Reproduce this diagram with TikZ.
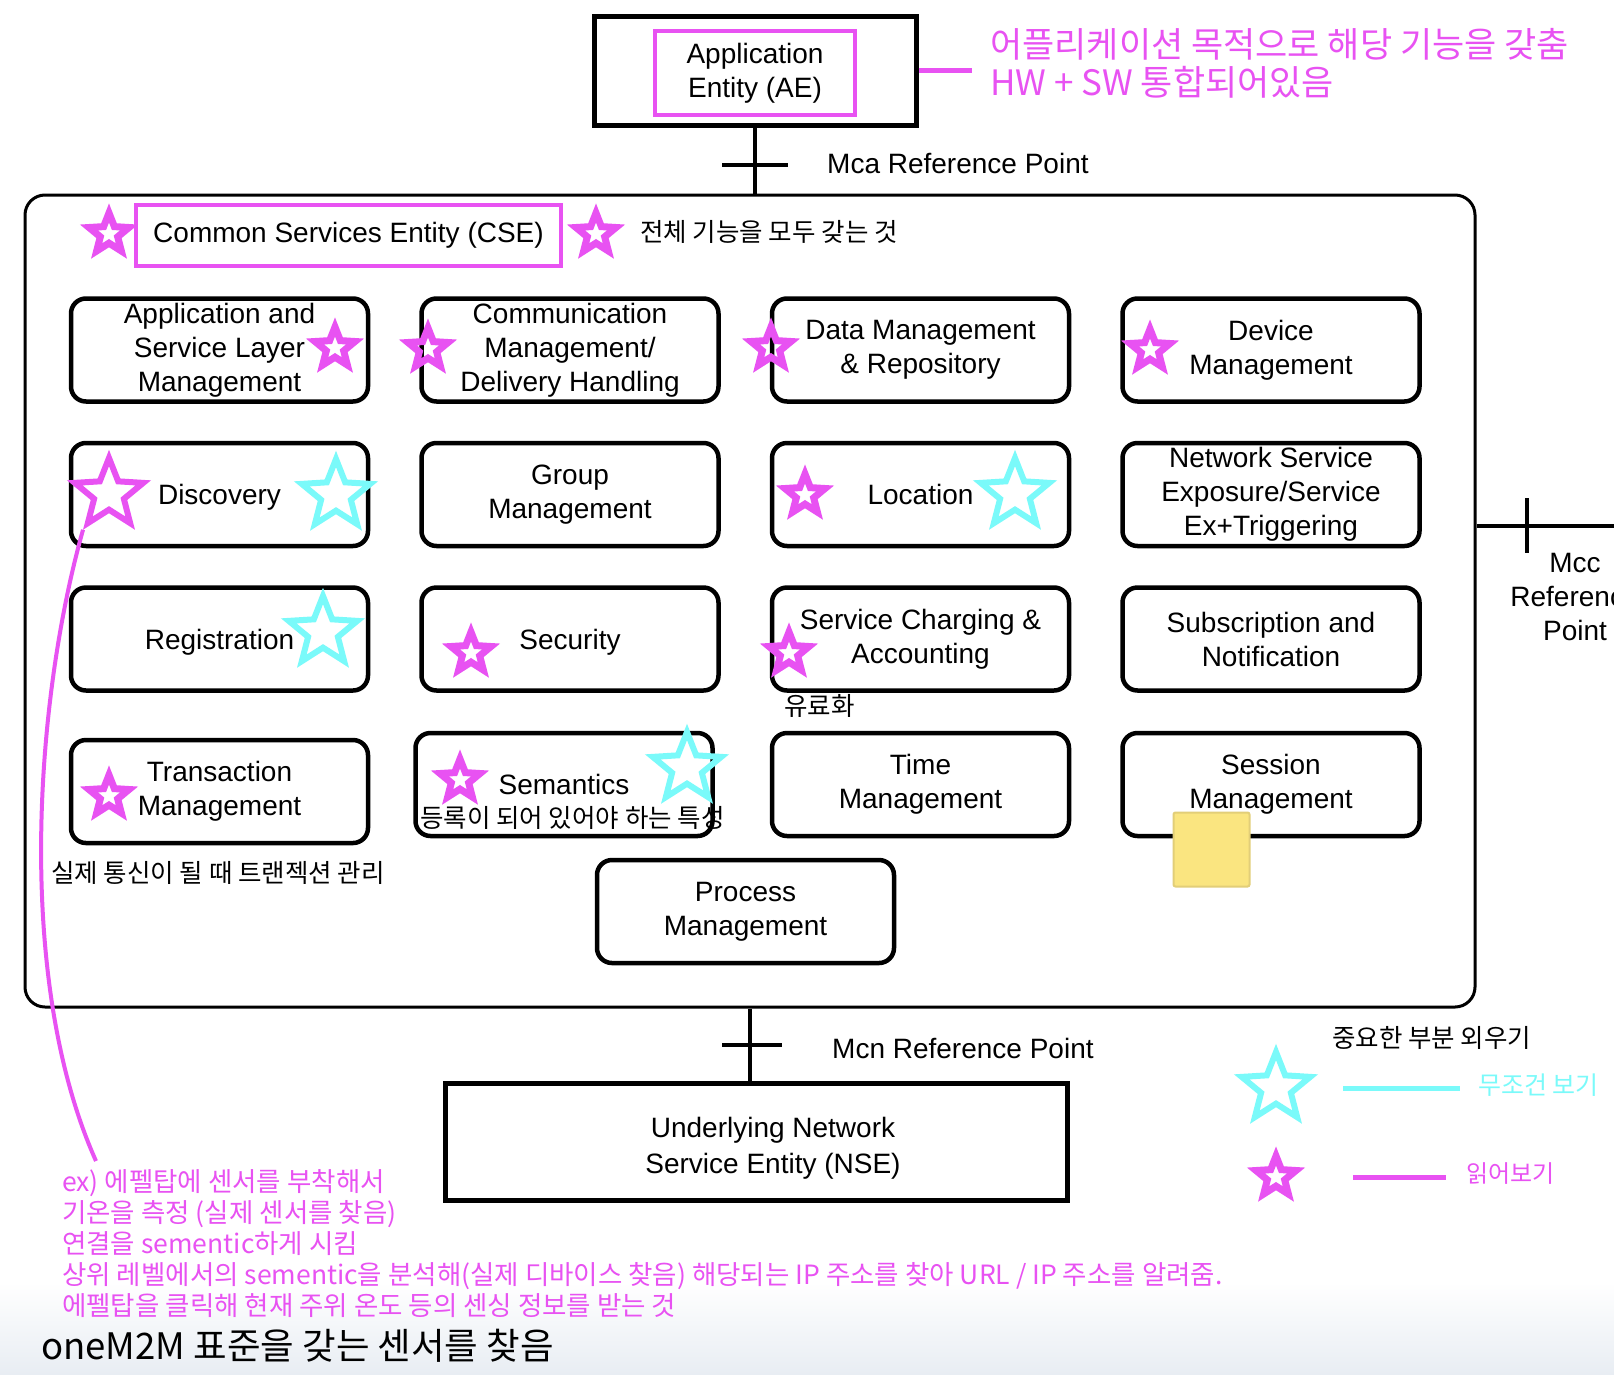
\documentclass[tikz,border=0pt]{standalone}
\usepackage{fontspec}
\setmainfont{Liberation Sans}
\newfontfamily\kr{Noto Sans CJK KR}
\usetikzlibrary{
  positioning,
  shapes.geometric,
  fit
}
\definecolor{hlmag}{RGB}{232,82,242}
\definecolor{hlcyan}{RGB}{122,250,250}
\definecolor{notepad}{RGB}{250,229,128}
\definecolor{notepadline}{RGB}{226,206,120}
\definecolor{fadebg}{RGB}{232,237,243}
\newcommand{\funcfont}{\fontsize{28}{34}\selectfont}

\begin{document}
\begin{tikzpicture}[x=1pt, y=-1pt,
    func/.style = {rectangle, draw, rounded corners=15pt, line width=4.5pt, minimum width=297pt, minimum height=103pt, inner sep=2pt, align=center, font=\funcfont},
    entity/.style = {rectangle, draw, line width=5pt, inner sep=2pt, align=center, font=\funcfont},
    markbox/.style = {rectangle, draw=hlmag, line width=4.5pt, inner sep=2pt, align=center, font=\funcfont},
    refline/.style = {line width=4pt},
    refnote/.style = {anchor=west, inner sep=0pt, font=\funcfont},
    smallstar/.style = {star, star points=5, star point ratio=2.3, draw=hlmag, line width=7pt, minimum size=42pt, inner sep=0pt},
    bigstar/.style = {star, star points=5, star point ratio=2.3, draw=#1, line width=6pt, minimum size=72pt, inner sep=0pt},
    memo/.style = {anchor=west, inner sep=0pt, font=\kr\fontsize{25.5}{30}\selectfont},
    magnote/.style = {anchor=west, inner sep=0pt, align=left, text=hlmag},
    magline/.style = {draw=hlmag, line width=5pt}
  ]
  \useasboundingbox[fill=white] (0,0) rectangle (1614,1374);
  \shade[top color=white, bottom color=fadebg] (0,1282) rectangle (1614,1374);

  % nodes
  \node[entity, minimum width=322pt, minimum height=109pt] (ae) at (755,70.5) {};
  \node[markbox, minimum width=200pt, minimum height=84pt] (aelabel) at (755,73) {Application\\Entity (AE)};
  \node[draw, rounded corners=20pt, line width=3pt, minimum width=1450pt, minimum height=812pt] (cse) at (750,601) {};
  \node[markbox, minimum width=425pt, minimum height=61pt] (cselabel) at (348.5,235.5) {Common Services Entity (CSE)};

  \node[func] (appsvc) at (219.5,350) {Application and\\Service Layer\\Management};
  \node[func, right=49pt of appsvc] (commdel) {Communication\\Management/\\Delivery Handling};
  \node[func, right=49pt of commdel] (datarep) {Data Management\\\& Repository};
  \node[func, right=49pt of datarep] (devmgmt) {Device\\Management};

  \node[func, below=37pt of appsvc, text depth=0pt] (discovery) {Discovery};
  \node[func, below=37pt of commdel] (groupmgmt) {Group\\Management};
  \node[func, below=37pt of datarep] (location) {Location};
  \node[func, below=37pt of devmgmt] (netexpo) {Network Service\\Exposure/Service\\Ex+Triggering};

  \node[func, below=37pt of discovery, text depth=0pt] (registration) {Registration};
  \node[func, below=37pt of groupmgmt, text depth=0pt] (security) {Security};
  \node[func, below=37pt of location] (charging) {Service Charging \&\\Accounting};
  \node[func, below=37pt of netexpo] (subscription) {Subscription and\\Notification};

  \node[func, below=45pt of registration] (transaction) {Transaction\\Management};
  \node[func, below=38pt of security, xshift=-6pt] (semantics) {Semantics};
  \node[func, below=38pt of charging] (timemgmt) {Time\\Management};
  \node[func, below=38pt of subscription] (session) {Session\\Management};
  \node[func] (process) at (745.5,911.5) {Process\\Management};

  \node[entity, minimum width=622pt, minimum height=117pt] (nse) at (756,1141.5) {};
  \node[align=center, font=\fontsize{28}{36}\selectfont] (nselabel) at ([xshift=17pt, yshift=-7pt]nse.center) {Underlying Network\\Service Entity (NSE)};

  \node[fill=notepad, draw=notepadline, line width=2pt, rounded corners=2pt, minimum width=76pt, minimum height=74pt] (sticky) at (1211.5,849.5) {};

  % stars
  \node[smallstar] (cseStarL) at (109,234) {};
  \node[smallstar] (cseStarR) at (596,234) {};
  \node[smallstar] (appStar) at (335,348) {};
  \node[smallstar] (commStar) at (428,349) {};
  \node[smallstar] (dataStar) at (771,348) {};
  \node[smallstar] (devStar) at (1150,350) {};
  \node[bigstar=hlmag] (discStarM) at (109,494) {};
  \node[bigstar=hlcyan] (discStarC) at (336,495) {};
  \node[smallstar] (locStarM) at (805,495) {};
  \node[bigstar=hlcyan] (locStarC) at (1015,494) {};
  \node[bigstar=hlcyan] (regStarC) at (323,632) {};
  \node[smallstar] (secStar) at (471,653) {};
  \node[smallstar] (chargeStar) at (789,653) {};
  \node[smallstar] (transStar) at (109,796) {};
  \node[smallstar] (semStarM) at (460,780) {};
  \node[bigstar=hlcyan] (semStarC) at (687,768) {};
  \node[bigstar=hlcyan] (keyStarC) at (1276,1088) {};
  \node[smallstar] (keyStarM) at (1276,1177) {};

  % notes
  \node[magnote, font=\kr\fontsize{35}{38}\selectfont] (aenote) at (990,63) {어플리케이션 목적으로 해당 기능을 갖춤\\HW + SW 통합되어있음};
  \node[refnote] (mcalabel) at (827,163) {Mca Reference Point};
  \node[memo] (csememo) at (640,232) {전체 기능을 모두 갖는 것};
  \node[memo] (chargememo) at (784,706) {유료화};
  \node[memo] (semmemo) at (420,818) {등록이 되어 있어야 하는 특성};
  \node[memo] (transmemo) at (51,873) {실제 통신이 될 때 트랜젝션 관리};
  \node[align=center, font=\funcfont, inner sep=0pt] (mcclabel) at (1575,597) {Mcc\\Reference\\Point};
  \node[refnote] (mcnlabel) at (832,1048) {Mcn Reference Point};
  \node[memo] (keymemo) at (1332,1038) {중요한 부분 외우기};
  \node[magnote, text=hlcyan, font=\kr\fontsize{25}{30}\selectfont] (mustlabel) at (1478,1085) {무조건 보기};
  \node[magnote, font=\kr\fontsize{24}{30}\selectfont] (readlabel) at (1466,1174) {읽어보기};
  \node[magnote, font=\kr\fontsize{26.5}{31}\selectfont] (sensornote) at (62,1243.5) {ex) 에펠탑에 센서를 부착해서\\기온을 측정 (실제 센서를 찾음)\\연결을 sementic하게 시킴\\상위 레벨에서의 sementic을 분석해(실제 디바이스 찾음) 해당되는 IP 주소를 찾아 URL / IP 주소를 알려줌.\\에펠탑을 클릭해 현재 주위 온도 등의 센싱 정보를 받는 것};
  \node[anchor=west, inner sep=0pt, font=\kr\fontsize{36.5}{40}\selectfont] (findnote) at (41,1346) {oneM2M 표준을 갖는 센서를 찾음};

  % connections
  \draw[magline] (ae.east) -- ([xshift=-18pt]aenote.west |- ae.east);
  \draw[refline] (ae.south) -- (ae.south |- cse.north) coordinate[pos=.57] (mcatick);
  \draw[refline] ([xshift=-33pt]mcatick) -- ([xshift=33pt]mcatick);
  \draw[refline] (cse.south) -- (cse.south |- nse.north) coordinate[pos=.5] (mcntick);
  \draw[refline] ([xshift=-28pt]mcntick) -- ([xshift=32pt]mcntick);
  \coordinate (mccend) at (1614,526);
  \draw[refline] (mccend -| cse.east) -- (mccend) coordinate[pos=.37] (mcctick);
  \draw[refline] ([yshift=28pt]mcctick) -- ([yshift=-27pt]mcctick);
  \draw[magline, draw=hlcyan] ([xshift=67pt]keyStarC.center) -- ([xshift=-18pt]mustlabel.west |- keyStarC.center);
  \draw[magline] ([xshift=77pt]keyStarM.center) -- ([xshift=-20pt]readlabel.west |- keyStarM.center);
  \coordinate (notetip) at (96,1161);
  \draw[magline, line width=4pt] (discStarM.outer point 3) .. controls (35,700) and (15,980) .. (notetip);
\end{tikzpicture}
\end{document}
